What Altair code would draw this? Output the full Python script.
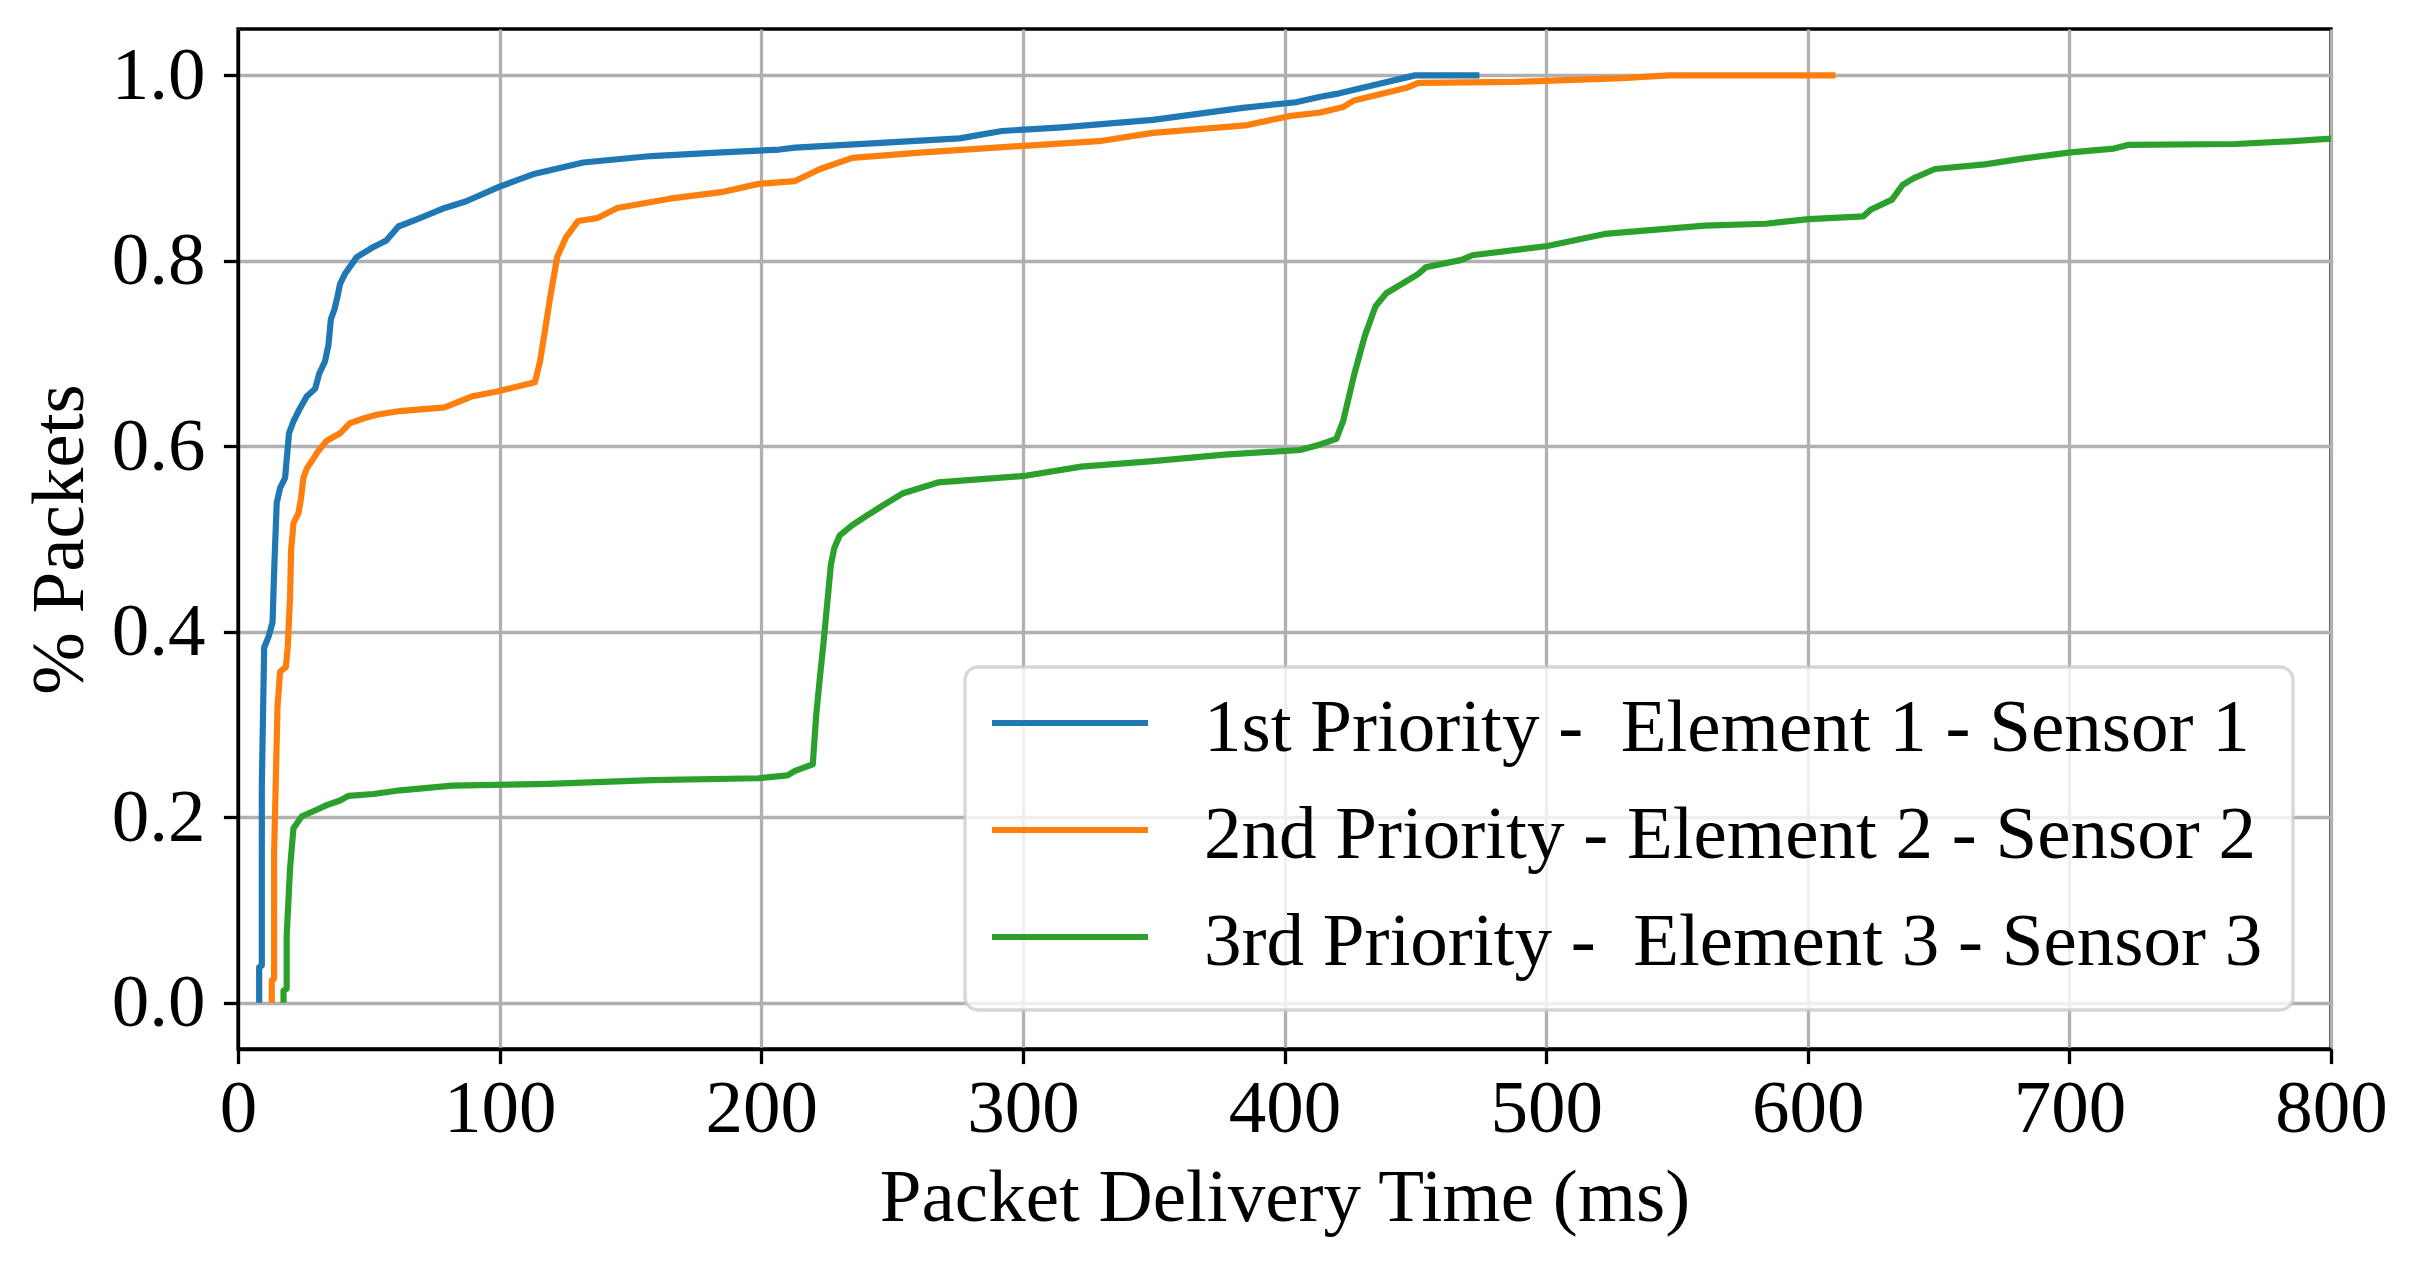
import altair as alt
import pandas as pd

# ---------------- data ----------------
series_names = [
    "1st Priority - \u00a0Element 1 - Sensor 1",
    "2nd Priority - Element 2 - Sensor 2",
    "3rd Priority - \u00a0Element 3 - Sensor 3",
]
series_colors = ["#1f77b4", "#ff7f0e", "#2ca02c"]

x_ticks = [0, 100, 200, 300, 400, 500, 600, 700, 800]
y_ticks = [0.0, 0.2, 0.4, 0.6, 0.8, 1.0]

s1_x = [8.1, 8.1, 9.1, 9.1, 10.0, 11.6, 13.2, 13.9, 14.8, 16.1, 18.0, 19.5, 21.2, 23.7, 26.3,
        29.5, 31.0, 33.3, 34.6, 35.5, 36.9, 38.0, 39.0, 40.9, 45.4, 51.8, 56.7, 61.3, 68.6,
        79.0, 87.0, 100.0, 113.5, 132.0, 158.0, 185.0, 207.0, 212.9, 244.0, 275.8, 292.0,
        315.0, 349.7, 384.0, 404.4, 413.7, 419.8, 433.5, 449.9, 474.5]
s1_y = [0.0, 0.038, 0.040, 0.233, 0.383, 0.394, 0.410, 0.472, 0.539, 0.555, 0.566, 0.614,
        0.627, 0.641, 0.654, 0.662, 0.678, 0.692, 0.710, 0.737, 0.748, 0.761, 0.775, 0.786,
        0.804, 0.815, 0.822, 0.837, 0.845, 0.857, 0.864, 0.880, 0.894, 0.906, 0.913, 0.917,
        0.920, 0.922, 0.927, 0.932, 0.940, 0.944, 0.952, 0.965, 0.971, 0.977, 0.980, 0.989,
        1.0, 1.0]

s2_x = [12.9, 12.9, 13.8, 13.8, 15.1, 16.1, 18.3, 19.0, 19.9, 20.3, 21.2, 23.1, 24.1, 25.0,
        26.3, 28.2, 30.7, 33.9, 39.0, 42.8, 47.9, 53.0, 61.9, 79.0, 89.7, 99.0, 113.5, 115.4,
        117.4, 119.4, 122.0, 125.3, 130.0, 137.2, 145.0, 165.0, 184.7, 199.0, 212.9, 222.5,
        234.8, 262.0, 300.4, 329.0, 349.7, 385.0, 401.7, 413.7, 422.5, 426.6, 447.1, 451.2,
        488.2, 529.2, 547.0, 610.6]
s2_y = [0.0, 0.024, 0.026, 0.161, 0.319, 0.357, 0.362, 0.383, 0.437, 0.488, 0.517, 0.528,
        0.544, 0.566, 0.576, 0.584, 0.595, 0.606, 0.614, 0.625, 0.630, 0.634, 0.638, 0.642,
        0.654, 0.659, 0.669, 0.691, 0.726, 0.762, 0.804, 0.825, 0.843, 0.846, 0.857, 0.867,
        0.874, 0.883, 0.886, 0.899, 0.911, 0.917, 0.924, 0.929, 0.938, 0.946, 0.956, 0.960,
        0.966, 0.973, 0.987, 0.992, 0.993, 0.997, 1.0, 1.0]

s3_x = [17.4, 17.4, 18.6, 18.6, 19.9, 21.2, 24.4, 30.1, 33.9, 39.0, 42.2, 51.8, 62.0, 81.8,
        118.7, 158.0, 199.0, 210.0, 212.9, 219.7, 221.0, 222.5, 223.8, 225.2, 226.6, 227.9,
        230.0, 234.8, 240.2, 247.0, 253.9, 267.6, 300.4, 322.3, 349.7, 377.0, 406.0, 413.7,
        419.8, 422.5, 426.6, 430.7, 434.8, 438.9, 447.1, 451.2, 454.0, 467.7, 471.8, 500.5,
        522.4, 560.7, 584.0, 600.4, 621.2, 624.0, 632.2, 636.3, 640.4, 648.6, 667.7, 681.4,
        700.5, 717.0, 722.4, 763.5, 785.4, 801.0]
s3_y = [0.0, 0.013, 0.015, 0.072, 0.145, 0.188, 0.201, 0.208, 0.213, 0.218, 0.223, 0.225,
        0.229, 0.234, 0.236, 0.240, 0.242, 0.245, 0.250, 0.257, 0.310, 0.353, 0.388, 0.430,
        0.472, 0.490, 0.504, 0.515, 0.525, 0.537, 0.549, 0.561, 0.568, 0.578, 0.584, 0.591,
        0.596, 0.602, 0.608, 0.628, 0.677, 0.719, 0.751, 0.765, 0.779, 0.786, 0.793, 0.801,
        0.806, 0.816, 0.829, 0.838, 0.840, 0.845, 0.848, 0.855, 0.866, 0.882, 0.889, 0.899,
        0.904, 0.910, 0.917, 0.921, 0.925, 0.926, 0.929, 0.932]

# ---------------- build the table ----------------
frames = []
for name, xs, ys in zip(series_names, [s1_x, s2_x, s3_x], [s1_y, s2_y, s3_y]):
    frames.append(pd.DataFrame({"series": name, "t": xs, "p": ys, "order": range(len(xs))}))
df = pd.concat(frames, ignore_index=True)

FONT = "Liberation Serif"
FS = 75
LW = 3.3

color_scale = alt.Scale(domain=series_names, range=series_colors)

lines = alt.Chart(df).mark_line(clip=True, strokeWidth=6.2, strokeJoin="round").encode(
    x=alt.X("t:Q",
            scale=alt.Scale(domain=[0, 800], nice=False, zero=False),
            axis=alt.Axis(values=x_ticks, format="d", title="Packet Delivery Time (ms)",
                          labelPadding=9, titleBaseline="alphabetic", titleY=171)),
    y=alt.Y("p:Q",
            scale=alt.Scale(domain=[-0.05, 1.05], nice=False, zero=False),
            axis=alt.Axis(values=y_ticks, format=".1f", title="% Packets",
                          labelPadding=18.4, titleAngle=270, titleBaseline="alphabetic",
                          titleAlign="center", titleX=-156, titleY=510)),
    color=alt.Color("series:N", scale=color_scale, legend=None),
    order=alt.Order("order:Q"),
)

# ---------------- legend drawn as its own layer ----------------
legend_box = alt.Chart(pd.DataFrame({"k": [0]})).mark_rect(
    cornerRadius=13, fill="white", fillOpacity=0.8,
    stroke="#cccccc", strokeOpacity=0.8, strokeWidth=LW,
).encode(x=alt.value(727), x2=alt.value(2055), y=alt.value(638), y2=alt.value(981))

legend_layers = [legend_box]
row_line_y = [694, 801, 908]
for name, col, ly in zip(series_names, series_colors, row_line_y):
    d = pd.DataFrame({"label": [name]})
    legend_layers.append(
        alt.Chart(d).mark_rule(color=col, strokeWidth=6.2).encode(
            x=alt.value(754), x2=alt.value(910), y=alt.value(ly))
    )
    legend_layers.append(
        alt.Chart(d).mark_text(align="left", baseline="alphabetic", font=FONT,
                               fontSize=FS, color="black").encode(
            x=alt.value(966), y=alt.value(ly + 28), text="label:N")
    )

chart = alt.layer(lines, *legend_layers).properties(
    width=2093, height=1020,
    padding={"left": 230, "top": 21, "right": 60, "bottom": 200},
    autosize=alt.AutoSizeParams(type="none"),
).configure_axis(
    grid=True, gridColor="#b0b0b0", gridWidth=LW,
    domainColor="black", domainWidth=LW,
    tickColor="black", tickWidth=LW, tickSize=14.6,
    labelFont=FONT, labelFontSize=FS, labelColor="black",
    labelFlush=False, labelOverlap=False,
    titleFont=FONT, titleFontSize=FS, titleFontWeight="normal", titleColor="black",
).configure_view(
    stroke="black", strokeWidth=LW,
)

chart.save("out.html", embed_options={"renderer": "svg", "actions": False})
